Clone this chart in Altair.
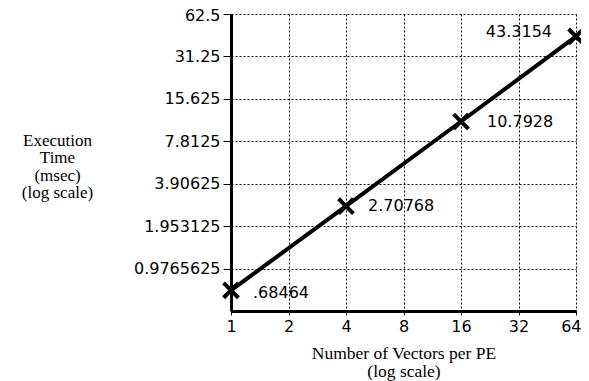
import altair as alt
import pandas as pd

vectors = [1, 4, 16, 64]
times = [0.68464, 2.70768, 10.7928, 43.3154]
labels = [".68464", "2.70768", "10.7928", "43.3154"]
x_ticks = [1, 2, 4, 8, 16, 32, 64]
y_ticks = [0.9765625, 1.953125, 3.90625, 7.8125, 15.625, 31.25, 62.5]
y_domain = [0.48828125, 62.5]

df = pd.DataFrame({"vectors": vectors, "time": times, "label": labels})

TICK_FONT = "DejaVu Sans"
TITLE_FONT = "Liberation Serif"

x_enc = alt.X(
    "vectors:Q",
    scale=alt.Scale(type="log", base=2, domain=[1, 64], nice=False),
    axis=alt.Axis(
        values=x_ticks,
        labelExpr="'' + datum.value",
        title=["Number of Vectors per PE", "(log scale)"],
        titleFont=TITLE_FONT,
        titleFontSize=17.5,
        titleFontWeight="normal",
        titleColor="black",
        titleLineHeight=18,
        titlePadding=10,
        labelFont=TICK_FONT,
        labelFontSize=16,
        labelColor="black",
        labelPadding=3,
        labelFlush=False,
        labelAlign={"condition": {"test": "datum.value == 64", "value": "right"}, "value": "center"},
        labelOffset={"condition": {"test": "datum.value == 64", "value": 5}, "value": 0},
        domainColor="black",
        domainWidth=3,
        tickColor="black",
        tickSize=4,
        tickWidth=1,
        grid=True,
        gridColor="black",
        gridDash=[2, 2],
        gridWidth=1,
        gridOpacity=1,
    ),
)

y_enc = alt.Y(
    "time:Q",
    scale=alt.Scale(type="log", base=2, domain=y_domain, nice=False),
    axis=alt.Axis(
        values=y_ticks,
        labelExpr="'' + datum.value",
        title=["Execution", "Time", "(msec)", "(log scale)"],
        titleFont=TITLE_FONT,
        titleFontSize=17,
        titleFontWeight="normal",
        titleColor="black",
        titleLineHeight=17.5,
        titleAngle=0,
        titleAlign="center",
        titleBaseline="middle",
        titleX=-174,
        titleY=126,
        labelFont=TICK_FONT,
        labelFontSize=16,
        labelColor="black",
        labelPadding=3,
        labelFlush=False,
        labelOffset={"condition": {"test": "datum.value == 62.5", "value": 1}, "value": 0},
        domainColor="black",
        domainWidth=3,
        tickColor="black",
        tickSize=8,
        tickWidth=1,
        grid=True,
        gridColor="black",
        gridDash=[2, 2],
        gridWidth=1,
        gridOpacity=1,
    ),
)

base = alt.Chart(df)

line = base.mark_line(color="black", strokeWidth=4).encode(x=x_enc, y=y_enc)

points = base.mark_point(
    shape="M-1,-1L1,1M-1,1L1,-1",
    size=220,
    strokeWidth=4,
    filled=False,
    color="black",
    opacity=1,
).encode(x="vectors:Q", y="time:Q")


def label_layer(val, align, dx, dy):
    return (
        base.transform_filter(alt.datum.vectors == val)
        .mark_text(
            align=align,
            baseline="middle",
            dx=dx,
            dy=dy,
            font=TICK_FONT,
            fontSize=16,
            color="black",
        )
        .encode(x="vectors:Q", y="time:Q", text="label:N")
    )


texts = [
    label_layer(1, "left", 22, 3),
    label_layer(4, "left", 22, 0),
    label_layer(16, "left", 26, 0),
    label_layer(64, "right", -24, -4),
]

chart = (
    alt.layer(line, points, *texts)
    .properties(
        width=345,
        height=297,
        autosize=alt.AutoSizeParams(type="none"),
        padding={"left": 223, "top": 6, "right": 5, "bottom": 74},
        background="white",
    )
    .configure_view(stroke=None)
)

chart.save("out.html", embed_options={"renderer": "svg", "actions": False})
